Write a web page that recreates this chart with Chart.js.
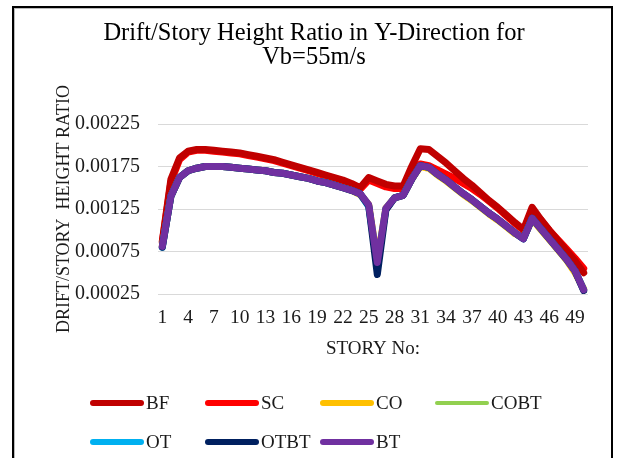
<!DOCTYPE html>
<html>
<head>
<meta charset="utf-8">
<script src="https://cdn.jsdelivr.net/npm/chart.js@4.4.1/dist/chart.umd.min.js"></script>
<style>
  html, body { margin: 0; padding: 0; background: #fff; }
  #wrap { position: relative; width: 619px; height: 458px; overflow: hidden; }
  #frame { position: absolute; left: 12px; top: 6px; width: 601px; height: 470px;
           border: 2px solid #000; box-sizing: border-box; box-shadow: inset 1px 1px 0 #bbb; }
  #c { position: absolute; left: 0; top: 0; }
  #legend { position: absolute; left: 90px; top: 391px; display: grid;
            grid-template-columns: 115px 115px 115px 115px; grid-auto-rows: 39px;
            font-family: 'Liberation Serif', 'Times New Roman', serif; font-size: 19px; color: #1a1a1a; }
  .item { display: flex; align-items: center; height: 24px; white-space: nowrap; }
  .swatch { width: 54px; height: 6px; border-radius: 3px; margin-right: 2px; }
</style>
</head>
<body>
<div id="wrap">
  <div id="frame"></div>
  <canvas id="c" width="619" height="458"></canvas>
  <div id="legend"></div>
</div>
<script>
// ---- data ----
const stories = Array.from({length: 50}, (_, i) => String(i + 1));
const seriesNames = ['BF', 'SC', 'CO', 'COBT', 'OT', 'OTBT', 'BT'];

const BF = [0.00087,0.00160,0.00185,0.00193,0.00195,0.00195,0.00194,0.00193,0.00192,0.00191,
            0.00189,0.00187,0.00185,0.00183,0.00180,0.00177,0.00174,0.00171,0.00168,0.00165,
            0.00162,0.00159,0.00155,0.00150,0.00162,0.00158,0.00154,0.00152,0.00152,0.00175,
            0.00196,0.00195,0.00187,0.00179,0.00170,0.00161,0.00153,0.00144,0.00135,0.00127,
            0.00118,0.00109,0.00101,0.00127,0.00113,0.00100,0.00088,0.00076,0.00064,0.00050];
const SC = [0.00086,0.00157,0.00183,0.00192,0.00194,0.00194,0.00193,0.00192,0.00191,0.00190,
            0.00188,0.00186,0.00184,0.00182,0.00179,0.00176,0.00173,0.00170,0.00167,0.00164,
            0.00161,0.00158,0.00153,0.00148,0.00159,0.00155,0.00151,0.00149,0.00149,0.00165,
            0.00178,0.00176,0.00171,0.00166,0.00161,0.00155,0.00149,0.00142,0.00134,0.00126,
            0.00117,0.00108,0.00100,0.00124,0.00112,0.00100,0.00089,0.00078,0.00067,0.00055];
const CO = [0.00081,0.00140,0.00162,0.00170,0.00173,0.00175,0.00175,0.00175,0.00174,0.00173,
            0.00172,0.00171,0.00170,0.00168,0.00167,0.00165,0.00163,0.00161,0.00158,0.00156,
            0.00153,0.00150,0.00147,0.00142,0.00130,0.00064,0.00126,0.00138,0.00141,0.00160,
            0.00175,0.00173,0.00165,0.00158,0.00150,0.00142,0.00135,0.00127,0.00119,0.00112,
            0.00104,0.00096,0.00091,0.00113,0.00101,0.00089,0.00077,0.00065,0.00050,0.00031];
const COBT = [0.00081,0.00140,0.00162,0.00170,0.00173,0.00175,0.00175,0.00175,0.00174,0.00173,
            0.00172,0.00171,0.00170,0.00168,0.00167,0.00165,0.00163,0.00161,0.00158,0.00156,
            0.00153,0.00150,0.00147,0.00143,0.00130,0.00063,0.00126,0.00138,0.00141,0.00160,
            0.00176,0.00174,0.00166,0.00159,0.00151,0.00143,0.00136,0.00128,0.00120,0.00113,
            0.00105,0.00097,0.00090,0.00114,0.00102,0.00090,0.00078,0.00066,0.00052,0.00030];
const OT = [0.00080,0.00140,0.00162,0.00170,0.00173,0.00175,0.00175,0.00175,0.00174,0.00173,
            0.00172,0.00171,0.00170,0.00168,0.00167,0.00165,0.00163,0.00161,0.00158,0.00156,
            0.00153,0.00150,0.00147,0.00143,0.00128,0.00060,0.00125,0.00138,0.00141,0.00160,
            0.00176,0.00174,0.00166,0.00159,0.00151,0.00143,0.00136,0.00128,0.00120,0.00113,
            0.00105,0.00097,0.00090,0.00114,0.00102,0.00090,0.00078,0.00066,0.00052,0.00030];
const OTBT = [0.00080,0.00140,0.00162,0.00170,0.00173,0.00175,0.00175,0.00175,0.00174,0.00173,
            0.00172,0.00171,0.00170,0.00168,0.00167,0.00165,0.00163,0.00161,0.00158,0.00156,
            0.00153,0.00150,0.00147,0.00143,0.00129,0.00048,0.00124,0.00138,0.00141,0.00160,
            0.00176,0.00174,0.00166,0.00159,0.00151,0.00143,0.00136,0.00128,0.00120,0.00113,
            0.00105,0.00097,0.00090,0.00114,0.00102,0.00090,0.00078,0.00066,0.00052,0.00029];
const BT = [0.00081,0.00140,0.00162,0.00170,0.00173,0.00175,0.00175,0.00175,0.00174,0.00173,
            0.00172,0.00171,0.00170,0.00168,0.00167,0.00165,0.00163,0.00161,0.00158,0.00156,
            0.00153,0.00150,0.00147,0.00143,0.00130,0.00062,0.00126,0.00138,0.00141,0.00160,
            0.00176,0.00174,0.00166,0.00159,0.00151,0.00143,0.00136,0.00128,0.00120,0.00113,
            0.00105,0.00097,0.00090,0.00114,0.00102,0.00090,0.00078,0.00066,0.00052,0.00030];
const seriesValues = [BF, SC, CO, COBT, OT, OTBT, BT];
const yTickValues = ['0.00025', '0.00075', '0.00125', '0.00175', '0.00225'];

// ---- styles ----
const seriesColors = ['#C00000', '#FF0000', '#FFC000', '#92D050', '#00B0F0', '#002060', '#7030A0'];
const seriesWidths = [7, 7, 7, 5, 7, 7, 7];
const legendWidths = [6, 6, 6, 4, 6, 6, 6];
const drawOrder = [5, 6, 4, 3, 2, 1, 0]; // lower = drawn on top
const serif = "'Liberation Serif', 'Times New Roman', serif";

const datasets = seriesNames.map((name, i) => ({
  label: name,
  data: seriesValues[i],
  borderColor: seriesColors[i],
  backgroundColor: seriesColors[i],
  borderWidth: seriesWidths[i],
  pointRadius: 0,
  tension: 0,
  borderJoinStyle: 'round',
  borderCapStyle: 'round',
  fill: false,
  order: drawOrder[i]
}));

new Chart(document.getElementById('c'), {
  type: 'line',
  data: { labels: stories, datasets },
  options: {
    responsive: false,
    animation: false,
    devicePixelRatio: 1,
    layout: { padding: { left: 40, right: 31, top: 0, bottom: 94 } },
    plugins: {
      legend: { display: false },
      tooltip: { enabled: false },
      title: {
        display: true,
        text: ['Drift/Story Height Ratio in Y-Direction for', 'Vb=55m/s'],
        color: '#000',
        font: { family: serif, size: 24.5, weight: 'normal', lineHeight: 1.0 },
        padding: { top: 21, bottom: 54 }
      }
    },
    scales: {
      x: {
        type: 'category',
        offset: true,
        grid: { display: false, drawTicks: false },
        border: { display: false },
        ticks: {
          autoSkip: false, maxRotation: 0, minRotation: 0, padding: 12,
          color: '#1a1a1a', font: { family: serif, size: 19.5 },
          callback: (v, idx) => (idx % 3 === 0 ? stories[idx] : '')
        },
        title: { display: true, text: 'STORY No:', color: '#1a1a1a',
                 font: { family: serif, size: 19 }, padding: { top: 0, bottom: 4 } },
        afterFit: s => { s.height = 70; }
      },
      y: {
        min: 0.00025, max: 0.00225,
        grid: { color: '#d9d9d9', lineWidth: 1, drawTicks: false },
        border: { display: false },
        afterBuildTicks: s => { s.ticks = yTickValues.map(t => ({ value: parseFloat(t) })); },
        ticks: {
          padding: 18, color: '#1a1a1a', font: { family: serif, size: 20 },
          callback: v => Number(v).toFixed(5)
        },
        title: { display: true, text: 'DRIFT/STORY  HEIGHT RATIO', color: '#1a1a1a',
                 font: { family: serif, size: 18 }, padding: { top: 13, bottom: 0 } },
        afterFit: s => { s.width = 118; }
      }
    }
  }
});

// ---- legend (HTML, built from the series arrays) ----
const leg = document.getElementById('legend');
seriesNames.forEach((name, i) => {
  const it = document.createElement('div');
  it.className = 'item';
  const sw = document.createElement('span');
  sw.className = 'swatch';
  sw.style.background = seriesColors[i];
  sw.style.height = legendWidths[i] + 'px';
  const tx = document.createElement('span');
  tx.textContent = name;
  it.appendChild(sw); it.appendChild(tx);
  leg.appendChild(it);
});
</script>
</body>
</html>
